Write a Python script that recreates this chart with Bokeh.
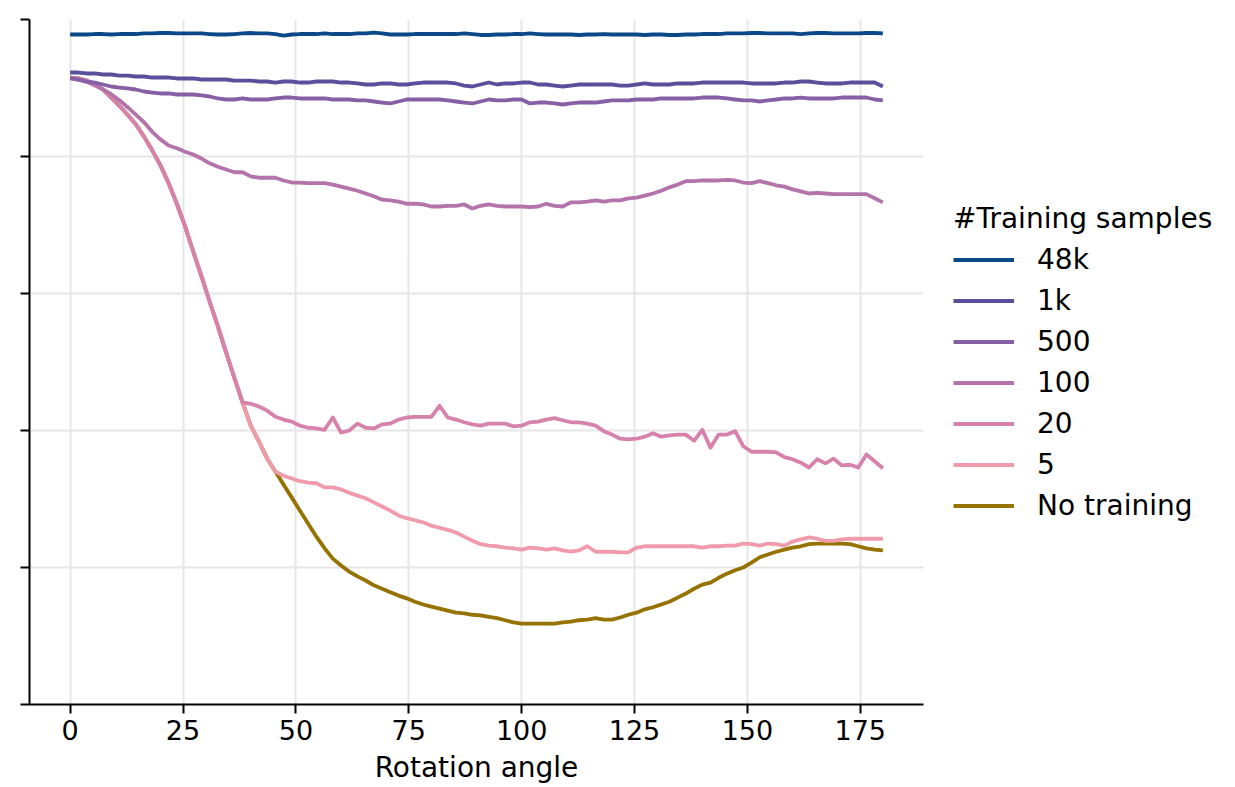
import numpy as np
from bokeh.plotting import figure
from bokeh.models import Range1d, Legend, LegendItem, FixedTicker, CustomJSTickFormatter
from bokeh.embed import file_html
from bokeh.resources import INLINE

# Rotation angles (100 evenly spaced evaluation angles)
angles = np.linspace(0, 180, 100)

acc_48k = [97.81, 97.81, 97.81, 97.88, 97.88, 97.81, 97.88, 97.88, 97.88, 97.96,
           97.96, 98.03, 98.03, 97.96, 97.96, 97.96, 97.96, 97.88, 97.81, 97.81,
           97.88, 97.96, 98.03, 97.96, 97.96, 97.88, 97.66, 97.81, 97.88, 97.88,
           97.88, 97.96, 97.88, 97.88, 97.88, 97.96, 97.96, 98.10, 97.96, 97.81,
           97.81, 97.81, 97.88, 97.88, 97.88, 97.88, 97.88, 97.88, 97.96, 97.88,
           97.74, 97.74, 97.81, 97.81, 97.88, 97.88, 97.96, 97.88, 97.81, 97.81,
           97.81, 97.81, 97.74, 97.81, 97.81, 97.88, 97.81, 97.81, 97.81, 97.81,
           97.74, 97.81, 97.81, 97.74, 97.74, 97.81, 97.81, 97.88, 97.88, 97.88,
           97.96, 97.96, 97.96, 98.03, 98.03, 97.96, 97.96, 97.96, 97.96, 97.88,
           97.96, 98.03, 98.03, 97.96, 97.96, 97.96, 97.96, 98.03, 98.03, 97.96]

acc_1k = [92.26, 92.26, 92.12, 92.12, 91.97, 91.97, 91.82, 91.82, 91.68, 91.68,
          91.53, 91.53, 91.53, 91.39, 91.39, 91.39, 91.24, 91.24, 91.24, 91.24,
          91.09, 91.09, 91.09, 90.95, 90.95, 90.80, 90.95, 90.95, 90.80, 90.80,
          90.95, 90.95, 90.95, 90.80, 90.80, 90.66, 90.51, 90.51, 90.66, 90.66,
          90.51, 90.51, 90.66, 90.80, 90.80, 90.80, 90.80, 90.66, 90.36, 90.22,
          90.51, 90.80, 90.51, 90.66, 90.66, 90.80, 90.80, 90.51, 90.51, 90.36,
          90.22, 90.36, 90.51, 90.51, 90.51, 90.51, 90.51, 90.36, 90.36, 90.51,
          90.66, 90.51, 90.51, 90.51, 90.66, 90.66, 90.66, 90.80, 90.80, 90.80,
          90.80, 90.80, 90.80, 90.66, 90.66, 90.66, 90.66, 90.80, 90.80, 90.95,
          90.95, 90.80, 90.66, 90.66, 90.66, 90.80, 90.80, 90.80, 90.80, 90.22]

acc_500 = [91.39, 91.24, 90.95, 90.80, 90.51, 90.22, 90.07, 89.93, 89.78, 89.49,
           89.34, 89.20, 89.20, 89.05, 89.05, 89.05, 88.91, 88.76, 88.47, 88.32,
           88.32, 88.47, 88.32, 88.32, 88.32, 88.47, 88.61, 88.61, 88.47, 88.47,
           88.47, 88.47, 88.32, 88.32, 88.32, 88.18, 88.18, 88.03, 87.88, 87.74,
           88.03, 88.32, 88.32, 88.32, 88.32, 88.32, 88.18, 88.03, 87.88, 87.74,
           88.03, 88.32, 88.18, 88.18, 88.32, 88.32, 87.74, 87.88, 87.88, 87.74,
           87.59, 87.74, 87.88, 87.88, 87.88, 88.03, 88.18, 88.18, 88.18, 88.32,
           88.32, 88.32, 88.47, 88.47, 88.47, 88.47, 88.47, 88.61, 88.61, 88.61,
           88.47, 88.32, 88.18, 88.18, 88.03, 88.18, 88.32, 88.47, 88.47, 88.61,
           88.47, 88.47, 88.47, 88.47, 88.61, 88.61, 88.61, 88.61, 88.32, 88.18]

acc_100 = [91.5, 91.2, 90.9, 90.4, 89.8, 89.1, 88.2, 87.2, 86.1, 85.0,
           83.6, 82.5, 81.6, 81.2, 80.7, 80.3, 79.7, 79.0, 78.5, 78.1,
           77.7, 77.7, 77.1, 76.9, 76.9, 76.9, 76.5, 76.2, 76.2, 76.1,
           76.1, 76.1, 75.9, 75.6, 75.3, 75.0, 74.6, 74.2, 73.7, 73.6,
           73.4, 73.1, 73.1, 73.0, 72.7, 72.7, 72.8, 72.8, 73.0, 72.4,
           72.8, 73.0, 72.8, 72.7, 72.7, 72.7, 72.6, 72.7, 73.1, 72.8,
           72.7, 73.3, 73.3, 73.4, 73.6, 73.4, 73.6, 73.6, 73.9, 74.0,
           74.3, 74.6, 75.0, 75.5, 75.9, 76.4, 76.4, 76.5, 76.5, 76.5,
           76.6, 76.5, 76.2, 76.1, 76.4, 76.1, 75.8, 75.6, 75.2, 74.9,
           74.6, 74.7, 74.6, 74.5, 74.5, 74.5, 74.5, 74.5, 73.9, 73.3]

acc_20 = [91.5, 91.4, 91.1, 90.5, 89.8, 88.6, 87.4, 86.1, 84.7, 82.9,
          80.9, 78.7, 76.1, 73.1, 69.8, 66.1, 62.5, 58.8, 55.2, 51.4,
          47.7, 44.1, 43.9, 43.5, 42.9, 42.0, 41.6, 41.3, 40.7, 40.4,
          40.3, 40.1, 41.9, 39.7, 40.0, 41.0, 40.4, 40.3, 40.9, 41.0,
          41.6, 41.9, 42.0, 42.0, 42.0, 43.6, 41.9, 41.6, 41.2, 40.9,
          40.7, 41.0, 41.0, 41.0, 40.6, 40.7, 41.2, 41.3, 41.6, 41.8,
          41.5, 41.2, 41.2, 41.0, 40.7, 39.9, 39.4, 38.8, 38.7, 38.8,
          39.1, 39.6, 39.1, 39.3, 39.4, 39.4, 38.5, 40.1, 37.5, 39.4,
          39.4, 39.9, 37.7, 36.9, 36.9, 36.9, 36.8, 36.1, 35.8, 35.3,
          34.6, 35.8, 35.2, 35.9, 34.9, 35.0, 34.6, 36.5, 35.5, 34.5]

acc_5 = [91.5, 91.4, 91.1, 90.5, 89.8, 88.6, 87.4, 86.1, 84.7, 82.9,
         80.9, 78.7, 76.1, 73.1, 69.8, 66.1, 62.5, 58.8, 55.2, 51.4,
         47.7, 44.1, 40.7, 38.4, 35.9, 34.0, 33.4, 33.0, 32.6, 32.4,
         32.3, 31.7, 31.7, 31.4, 30.9, 30.5, 30.1, 29.5, 28.9, 28.3,
         27.6, 27.2, 26.9, 26.6, 26.1, 25.8, 25.5, 25.1, 24.5, 23.9,
         23.4, 23.2, 23.1, 22.9, 22.8, 22.6, 22.9, 22.8, 22.6, 22.8,
         22.5, 22.3, 22.5, 23.1, 22.3, 22.3, 22.3, 22.2, 22.2, 22.9,
         23.1, 23.1, 23.1, 23.1, 23.1, 23.1, 23.1, 22.9, 23.1, 23.1,
         23.2, 23.2, 23.5, 23.4, 23.2, 23.5, 23.4, 23.2, 23.8, 24.1,
         24.4, 24.2, 23.9, 23.9, 24.1, 24.2, 24.2, 24.2, 24.2, 24.2]

acc_none = [91.5, 91.4, 91.1, 90.5, 89.8, 88.6, 87.4, 86.1, 84.7, 82.9,
            80.9, 78.7, 76.1, 73.1, 69.8, 66.1, 62.5, 58.8, 55.2, 51.4,
            47.7, 44.1, 40.7, 38.4, 35.9, 34.0, 32.1, 30.2, 28.3, 26.4,
            24.5, 22.8, 21.3, 20.3, 19.4, 18.7, 18.1, 17.4, 16.9, 16.4,
            15.9, 15.5, 15.0, 14.6, 14.3, 14.0, 13.7, 13.4, 13.3, 13.1,
            13.0, 12.8, 12.6, 12.3, 12.0, 11.8, 11.8, 11.8, 11.8, 11.8,
            12.0, 12.1, 12.3, 12.4, 12.6, 12.4, 12.4, 12.7, 13.1, 13.4,
            13.9, 14.2, 14.6, 15.0, 15.6, 16.2, 16.9, 17.5, 17.8, 18.5,
            19.1, 19.6, 20.0, 20.7, 21.5, 21.9, 22.3, 22.6, 22.9, 23.1,
            23.4, 23.5, 23.5, 23.5, 23.5, 23.4, 23.1, 22.8, 22.6, 22.5]

series_labels = ["48k", "1k", "500", "100", "20", "5", "No training"]
series_values = [acc_48k, acc_1k, acc_500, acc_100, acc_20, acc_5, acc_none]
series_colors = ["#0b4887", "#58509b", "#875fa5", "#b473aa", "#d782aa", "#f09bab", "#967300"]
legend_title = "#Training samples"

x_ticks = [0, 25, 50, 75, 100, 125, 150, 175]
y_ticks = [0, 20, 40, 60, 80, 100]
FONT = "DejaVu Sans"
FS = "28px"

p = figure(frame_width=894, frame_height=685,
           min_border_left=29, min_border_right=312, min_border_top=19, min_border_bottom=83,
           x_range=Range1d(-9, 189), y_range=Range1d(0, 100),
           output_backend="svg", toolbar_location=None, tools="")
p.outline_line_color = None
p.background_fill_color = "white"
p.border_fill_color = "white"

# axes
p.xaxis.ticker = FixedTicker(ticks=x_ticks)
p.yaxis.ticker = FixedTicker(ticks=y_ticks)
p.yaxis.formatter = CustomJSTickFormatter(code="return ''")
for ax in (p.xaxis[0], p.yaxis[0]):
    ax.axis_line_width = 2
    ax.axis_line_color = "black"
    ax.major_tick_out = 9
    ax.major_tick_in = 0
    ax.major_tick_line_width = 2
    ax.minor_tick_out = 0
    ax.minor_tick_in = 0
p.xaxis.major_label_text_font = FONT
p.xaxis.major_label_text_font_size = "27px"
p.xaxis.major_label_text_color = "black"
p.xaxis.major_label_standoff = 6
p.xaxis.axis_label = "Rotation angle"
p.xaxis.axis_label_text_font = FONT
p.xaxis.axis_label_text_font_size = FS
p.xaxis.axis_label_text_font_style = "normal"
p.xaxis.axis_label_text_color = "black"
p.xaxis.axis_label_standoff = 8

# grid
p.xgrid.ticker = FixedTicker(ticks=x_ticks)
p.ygrid.ticker = FixedTicker(ticks=y_ticks)
for g in (p.xgrid[0], p.ygrid[0]):
    g.grid_line_color = "#e6e6e6"
    g.grid_line_width = 2

# lines: draw "No training" first so that trained curves lie on top
renderers = {}
for lab, vals, col in reversed(list(zip(series_labels, series_values, series_colors))):
    r = p.line(angles, vals, line_color=col, line_width=3.8, line_join="round")
    renderers[lab] = r

items = [LegendItem(label=lab, renderers=[renderers[lab]]) for lab in series_labels]
legend = Legend(items=items, location=(30, 178),
                title=legend_title, title_text_font=FONT, title_text_font_size=FS,
                title_text_font_style="normal", title_text_color="black", title_standoff=4,
                padding=0, margin=0, spacing=0,
                glyph_width=61, glyph_height=41, label_height=41, label_standoff=23,
                label_text_font=FONT, label_text_font_size=FS, label_text_color="black",
                border_line_color=None, background_fill_alpha=0)
p.add_layout(legend, "right")

open("out.html", "w").write(file_html(p, INLINE))
